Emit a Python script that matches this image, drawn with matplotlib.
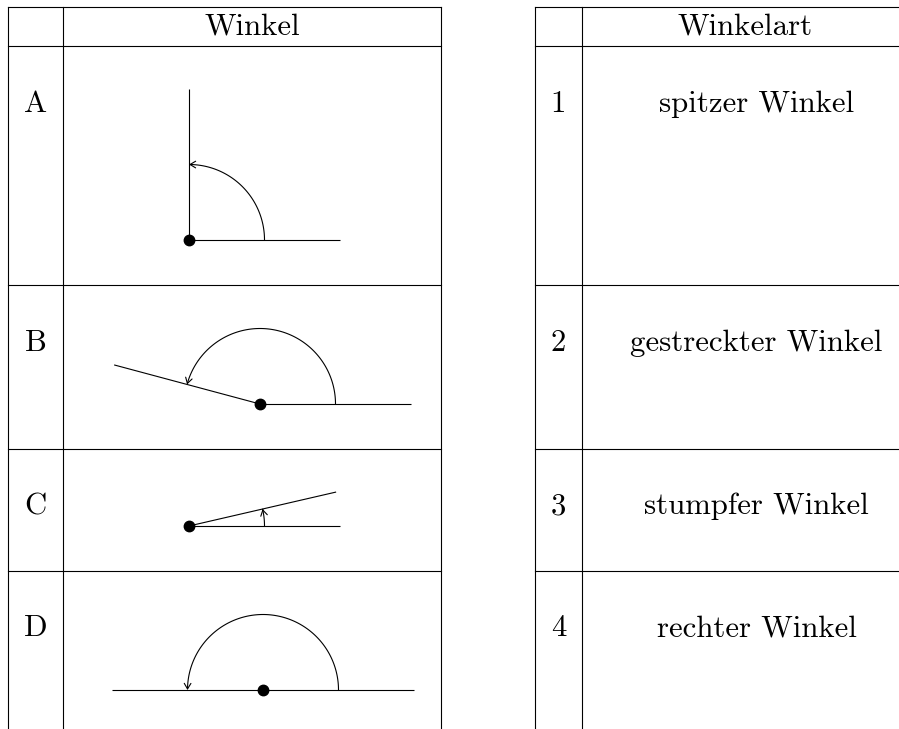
import numpy as np
import matplotlib
matplotlib.use("Agg")
import matplotlib.pyplot as plt
from matplotlib.patches import FancyArrowPatch
from matplotlib.path import Path

# ---- data ----
row_labels = ["A", "B", "C", "D"]
angles_deg = [90, 165, 13, 180]
type_numbers = ["1", "2", "3", "4"]
angle_types = ["spitzer Winkel", "gestreckter Winkel", "stumpfer Winkel", "rechter Winkel"]
header_left = "Winkel"
header_right = "Winkelart"

# ---- layout (pixels) ----
W, H = 899, 729
row_lines = [7, 46, 285, 449, 571]
left_cols = [8, 63, 441]
right_cols = [535, 582]
vertices = [(189, 240), (260, 404), (189, 526), (263, 690)]
ray_len = 151
arc_r = 75.5
FS = 22.2
FONT = "cmr10"

fig = plt.figure(figsize=(W / 100, H / 100), dpi=100)
ax = fig.add_axes([0, 0, 1, 1])
ax.set_xlim(0, W)
ax.set_ylim(H, 0)
ax.axis("off")

lw = 0.8
# left table grid
for y in row_lines:
    ax.plot([left_cols[0], left_cols[-1]], [y, y], color="black", lw=lw)
for x in left_cols:
    ax.plot([x, x], [row_lines[0], H], color="black", lw=lw)
# right table grid
for y in row_lines:
    ax.plot([right_cols[0], W], [y, y], color="black", lw=lw)
for x in right_cols:
    ax.plot([x, x], [row_lines[0], H], color="black", lw=lw)

# headers
hb = 34.3
ax.text((left_cols[1] + left_cols[2]) / 2, hb, header_left, ha="center", va="baseline",
        fontsize=FS, family=FONT)
ax.text(745, hb, header_right, ha="center", va="baseline", fontsize=FS, family=FONT)

row_tops = row_lines[1:]
for i in range(4):
    base = row_tops[i] + 65.5
    ax.text((left_cols[0] + left_cols[1]) / 2, base, row_labels[i], ha="center",
            va="baseline", fontsize=FS, family=FONT)
    ax.text((right_cols[0] + right_cols[1]) / 2, base, type_numbers[i], ha="center",
            va="baseline", fontsize=FS, family=FONT)
    ax.text(756.5, base, angle_types[i], ha="center", va="baseline", fontsize=FS,
            family=FONT)

# angle drawings
for (vx, vy), ang in zip(vertices, angles_deg):
    t = np.deg2rad(ang)
    # horizontal ray
    ax.plot([vx, vx + ray_len], [vy, vy], color="black", lw=lw, solid_capstyle="butt")
    # second ray
    ax.plot([vx, vx + ray_len * np.cos(t)], [vy, vy - ray_len * np.sin(t)],
            color="black", lw=lw, solid_capstyle="butt")
    # arc with arrow
    th = np.linspace(0, t, 120)
    verts = np.column_stack([vx + arc_r * np.cos(th), vy - arc_r * np.sin(th)])
    arc = FancyArrowPatch(path=Path(verts), arrowstyle="->,head_length=0.5,head_width=0.3",
                          mutation_scale=8, color="black", lw=lw, shrinkA=0, shrinkB=0)
    ax.add_patch(arc)
    ax.plot([vx], [vy], marker="o", markersize=7.5, color="black", zorder=5)

fig.savefig("out.png", dpi=100)
